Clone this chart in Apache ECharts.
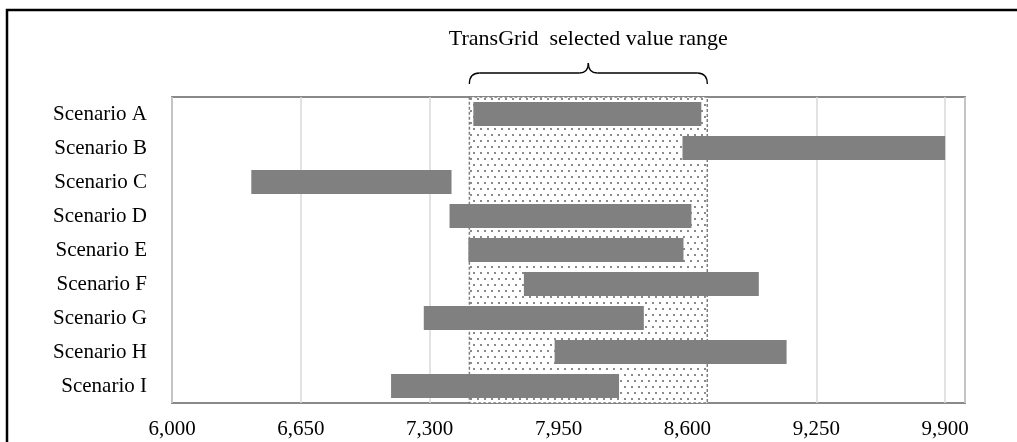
<!DOCTYPE html>
<html>
<head>
<meta charset="utf-8">
<script src="https://cdn.jsdelivr.net/npm/echarts@6/dist/echarts.min.js"></script>
<style>
html,body{margin:0;padding:0;background:#fff;}
#c{width:1017px;height:442px;}
</style>
</head>
<body>
<div id="c"></div>
<script>
const categories = ['Scenario A','Scenario B','Scenario C','Scenario D','Scenario E','Scenario F','Scenario G','Scenario H','Scenario I'];
const rangeStart = [7520, 8575, 6400, 7400, 7495, 7775, 7270, 7930, 7105];
const rangeEnd   = [8670, 9900, 7410, 8620, 8580, 8960, 8380, 9100, 8255];
const selectedRange = [7500, 8700];
const selectedLabel = 'TransGrid  selected value range';
const axisMin = 6000, axisMax = 10000, axisStep = 650;

const FONT = '"Liberation Serif", "Times New Roman", serif';

// dotted pattern
const tile = document.createElement('canvas');
tile.width = 7; tile.height = 12;
const tc = tile.getContext('2d');
tc.fillStyle = '#ffffff'; tc.fillRect(0,0,7,12);
tc.fillStyle = '#8a8a8a';
tc.fillRect(1,2,2,2);
tc.fillRect(4,8,2,2);

const chart = echarts.init(document.getElementById('c'), null, {renderer:'canvas'});

const span = rangeEnd.map((e,i)=>e - rangeStart[i]);

chart.setOption({
  animation:false,
  backgroundColor:'#ffffff',
  grid:{left:172, right:52, top:97, bottom:39, show:true, borderColor:'#898989', borderWidth:2, backgroundColor:'transparent'},
  xAxis:{
    type:'value', min:axisMin, max:axisMax, interval:axisStep,
    axisLine:{show:false}, axisTick:{show:false},
    splitLine:{show:true, lineStyle:{color:'#d9d9d9', width:1.5}},
    axisLabel:{showMaxLabel:false, margin:16, color:'#000', fontFamily:FONT, fontSize:21,
      formatter:v=>v.toLocaleString('en-US')}
  },
  yAxis:{
    type:'category', data:categories, inverse:true,
    axisLine:{show:false}, axisTick:{show:false},
    axisLabel:{margin:25, color:'#000', fontFamily:FONT, fontSize:21}
  },
  series:[
    {
      type:'line', data:[], z:1, silent:true,
      markArea:{silent:true,
        itemStyle:{color:{image:tile, repeat:'repeat'}, borderColor:'#7f7f7f', borderWidth:1.5, borderType:[3,2]},
        data:[[{xAxis:selectedRange[0]},{xAxis:selectedRange[1]}]]}
    },
    {type:'bar', stack:'r', data:rangeStart, barWidth:24, itemStyle:{color:'transparent'}, silent:true, z:2},
    {type:'bar', stack:'r', data:span, barWidth:24, itemStyle:{color:'#808080'}, z:3}
  ]
});

function drawOverlay(){
  const x1 = chart.convertToPixel({xAxisIndex:0}, selectedRange[0]);
  const x2 = chart.convertToPixel({xAxisIndex:0}, selectedRange[1]);
  const mid = (x1+x2)/2;
  const yb = 84, yh = 73, yp = 63;
  const st = {fill:'none', stroke:'#000', lineWidth:1.3};
  chart.setOption({
    graphic:[
      {type:'rect', shape:{x:7, y:10, width:1200, height:600}, style:{fill:'none', stroke:'#000', lineWidth:2.5}, silent:true, z:100},
      {type:'bezierCurve', shape:{x1:x1, y1:yb, cpx1:x1, cpy1:yh, x2:x1+10, y2:yh}, style:st, silent:true, z:100},
      {type:'line', shape:{x1:x1+10, y1:yh, x2:mid-9, y2:yh}, style:st, silent:true, z:100},
      {type:'bezierCurve', shape:{x1:mid-9, y1:yh, cpx1:mid, cpy1:yh, x2:mid, y2:yp}, style:st, silent:true, z:100},
      {type:'bezierCurve', shape:{x1:mid, y1:yp, cpx1:mid, cpy1:yh, x2:mid+9, y2:yh}, style:st, silent:true, z:100},
      {type:'line', shape:{x1:mid+9, y1:yh, x2:x2-10, y2:yh}, style:st, silent:true, z:100},
      {type:'bezierCurve', shape:{x1:x2-10, y1:yh, cpx1:x2, cpy1:yh, x2:x2, y2:yb}, style:st, silent:true, z:100},
      {type:'text', x:mid, y:39, style:{text:selectedLabel, fontFamily:FONT, fontSize:22, fill:'#000', align:'center', verticalAlign:'middle'}, silent:true, z:100}
    ]
  });
}
drawOverlay();
</script>
</body>
</html>
